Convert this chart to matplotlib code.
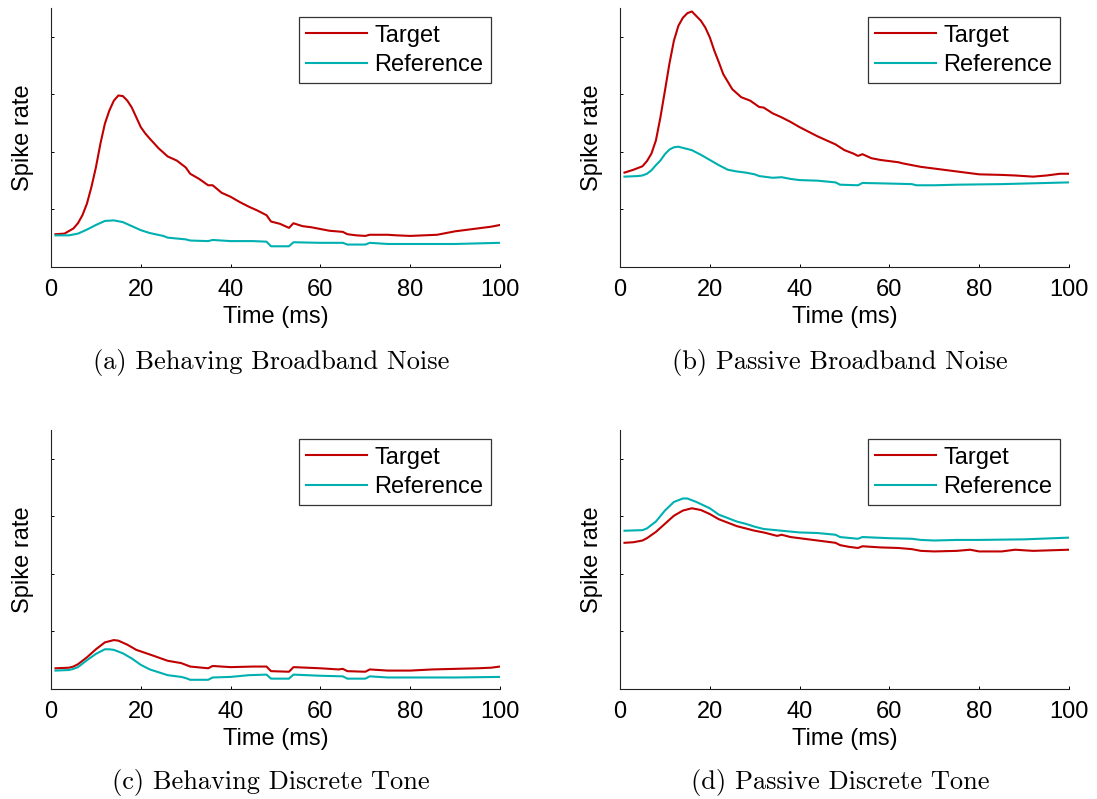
import matplotlib
matplotlib.use("Agg")
import matplotlib.pyplot as plt

plt.rcParams['font.family'] = ['Liberation Sans', 'DejaVu Sans']

# time axis (ms) and spike-rate traces for each condition, in y-tick units
# (a) behaving, broadband noise
a_tar_t = [1, 3, 5, 6, 7, 8, 9, 10, 11, 12, 13, 14, 15, 16, 17, 18, 19, 20, 21, 22, 24, 26, 28, 30,
           31, 33, 35, 36, 38, 40, 42, 44, 46, 48, 49, 51, 53, 54, 56, 58, 60, 62, 65, 66, 68, 70,
           71, 75, 77, 80, 83, 86, 90, 95, 98, 100]
a_tar_y = [0.57, 0.58, 0.67, 0.76, 0.90, 1.10, 1.39, 1.73, 2.14, 2.49, 2.72, 2.89, 2.98, 2.97, 2.89,
           2.77, 2.60, 2.43, 2.32, 2.23, 2.06, 1.92, 1.85, 1.73, 1.62, 1.53, 1.42, 1.42, 1.29, 1.22,
           1.13, 1.05, 0.98, 0.90, 0.79, 0.75, 0.68, 0.76, 0.71, 0.69, 0.66, 0.63, 0.61, 0.57, 0.55,
           0.54, 0.56, 0.56, 0.55, 0.54, 0.55, 0.56, 0.62, 0.67, 0.70, 0.73]
a_ref_t = [1, 4, 6, 8, 10, 12, 14, 16, 18, 20, 22, 25, 26, 30, 31, 35, 36, 40, 45, 48, 49, 53, 54,
           60, 65, 66, 70, 71, 75, 80, 90, 100]
a_ref_y = [0.55, 0.55, 0.58, 0.65, 0.73, 0.80, 0.81, 0.78, 0.71, 0.64, 0.59, 0.54, 0.51, 0.48, 0.46,
           0.45, 0.47, 0.45, 0.45, 0.44, 0.36, 0.36, 0.43, 0.42, 0.42, 0.39, 0.39, 0.42, 0.40, 0.40,
           0.40, 0.42]

# (b) passive, broadband noise
b_tar_t = [1, 3, 5, 6, 7, 8, 9, 10, 11, 12, 13, 14, 15, 16, 17, 18, 19, 20, 21, 22, 23, 25, 27, 29,
           31, 32, 34, 36, 38, 40, 42, 44, 46, 48, 50, 52, 53, 54, 56, 58, 60, 62, 63, 65, 67, 70,
           73, 75, 78, 80, 85, 88, 90, 92, 95, 98, 100]
b_tar_y = [1.64, 1.69, 1.75, 1.84, 1.97, 2.20, 2.60, 3.06, 3.53, 3.93, 4.19, 4.33, 4.41, 4.44, 4.36,
           4.28, 4.16, 3.99, 3.76, 3.56, 3.35, 3.09, 2.95, 2.89, 2.78, 2.77, 2.67, 2.60, 2.52, 2.43,
           2.35, 2.27, 2.20, 2.13, 2.03, 1.97, 1.93, 1.96, 1.89, 1.86, 1.84, 1.82, 1.80, 1.77, 1.74,
           1.71, 1.68, 1.66, 1.63, 1.61, 1.60, 1.59, 1.58, 1.57, 1.59, 1.62, 1.62]
b_ref_t = [1, 4, 5, 6, 7, 8, 9, 10, 11, 12, 13, 14, 16, 18, 20, 22, 24, 26, 28, 30, 31, 34, 36, 38,
           40, 44, 48, 49, 53, 54, 60, 65, 66, 70, 75, 85, 90, 100]
b_ref_y = [1.57, 1.58, 1.59, 1.62, 1.68, 1.77, 1.85, 1.96, 2.04, 2.08, 2.09, 2.07, 2.03, 1.95, 1.86,
           1.77, 1.69, 1.66, 1.64, 1.61, 1.58, 1.55, 1.56, 1.53, 1.51, 1.50, 1.47, 1.43, 1.42, 1.46,
           1.45, 1.44, 1.42, 1.42, 1.43, 1.44, 1.45, 1.47]

# (c) behaving, discrete tone
c_tar_t = [1, 4, 5, 6, 8, 10, 12, 14, 15, 17, 19, 22, 26, 29, 30, 31, 35, 36, 40, 45, 48, 49, 53,
           54, 60, 64, 65, 66, 70, 71, 75, 80, 85, 90, 95, 98, 100]
c_tar_y = [0.36, 0.37, 0.39, 0.43, 0.55, 0.69, 0.81, 0.85, 0.84, 0.77, 0.68, 0.60, 0.49, 0.45, 0.42,
           0.39, 0.36, 0.40, 0.38, 0.39, 0.39, 0.31, 0.30, 0.38, 0.36, 0.34, 0.35, 0.31, 0.30, 0.34,
           0.32, 0.32, 0.34, 0.35, 0.36, 0.37, 0.39]
c_ref_t = [1, 4, 5, 6, 8, 10, 12, 13, 14, 16, 18, 20, 22, 24, 26, 29, 30, 31, 35, 36, 40, 44, 48,
           49, 53, 54, 60, 65, 66, 70, 71, 75, 80, 90, 100]
c_ref_y = [0.32, 0.33, 0.35, 0.38, 0.50, 0.61, 0.69, 0.69, 0.68, 0.62, 0.53, 0.42, 0.34, 0.29, 0.24,
           0.21, 0.19, 0.16, 0.16, 0.20, 0.21, 0.24, 0.25, 0.18, 0.18, 0.25, 0.23, 0.22, 0.18, 0.18,
           0.22, 0.20, 0.20, 0.20, 0.21]

# (d) passive, discrete tone
d_tar_t = [1, 3, 5, 6, 8, 10, 12, 14, 16, 18, 20, 22, 24, 26, 28, 30, 32, 35, 36, 38, 40, 44, 48,
           49, 51, 53, 54, 58, 62, 65, 67, 70, 75, 78, 80, 85, 88, 92, 100]
d_tar_y = [2.54, 2.55, 2.58, 2.62, 2.73, 2.87, 3.01, 3.10, 3.14, 3.11, 3.04, 2.95, 2.89, 2.83, 2.79,
           2.75, 2.72, 2.66, 2.68, 2.64, 2.62, 2.58, 2.54, 2.50, 2.47, 2.45, 2.48, 2.46, 2.45, 2.43,
           2.40, 2.39, 2.40, 2.42, 2.39, 2.39, 2.42, 2.40, 2.42]
d_ref_t = [1, 5, 6, 8, 10, 12, 14, 15, 17, 20, 22, 24, 26, 28, 30, 32, 36, 40, 44, 48, 49, 53, 54,
           60, 65, 67, 70, 75, 80, 90, 100]
d_ref_y = [2.75, 2.76, 2.79, 2.91, 3.10, 3.25, 3.31, 3.31, 3.25, 3.14, 3.03, 2.97, 2.91, 2.87, 2.82,
           2.78, 2.75, 2.72, 2.71, 2.68, 2.64, 2.61, 2.64, 2.62, 2.61, 2.59, 2.58, 2.59, 2.59, 2.60,
           2.63]

captions = ["(a) Behaving Broadband Noise", "(b) Passive Broadband Noise",
            "(c) Behaving Discrete Tone", "(d) Passive Discrete Tone"]
panels = [(a_tar_t, a_tar_y, a_ref_t, a_ref_y),
          (b_tar_t, b_tar_y, b_ref_t, b_ref_y),
          (c_tar_t, c_tar_y, c_ref_t, c_ref_y),
          (d_tar_t, d_tar_y, d_ref_t, d_ref_y)]
x_ticks = [0, 20, 40, 60, 80, 100]
y_ticks = [0, 1, 2, 3, 4]

TARGET_COLOR = '#c00000'
REF_COLOR = '#00b0b0'
FS = 17

W, H = 1097, 799
fig = plt.figure(figsize=(W / 100, H / 100), dpi=100)

# axes boxes in pixels: left, top, right, bottom
boxes = [(51, 8, 500, 267), (620, 8, 1069, 267),
         (51, 430, 500, 689), (620, 430, 1069, 689)]
caption_pos = [(271, 362), (840, 362), (271, 782), (840, 782)]

for (l, t, r, b), (tt, ty, rt, ry), cap, (cx, cy) in zip(boxes, panels, captions, caption_pos):
    ax = fig.add_axes([l / W, 1 - b / H, (r - l) / W, (b - t) / H])
    ax.plot(tt, ty, color=TARGET_COLOR, lw=1.5, label='Target')
    ax.plot(rt, ry, color=REF_COLOR, lw=1.5, label='Reference')
    ax.set_xlim(0, 100)
    ax.set_ylim(0, 4.5)
    ax.set_xticks(x_ticks)
    ax.set_yticks(y_ticks)
    ax.set_yticklabels([])
    ax.tick_params(direction='in', length=2.5, width=0.7, labelsize=FS, pad=9)
    for side in ('top', 'right'):
        ax.spines[side].set_visible(False)
    for side in ('left', 'bottom'):
        ax.spines[side].set_linewidth(0.8)
        ax.spines[side].set_color('#222222')
    ax.set_xlabel('Time (ms)', fontsize=FS, labelpad=3.5)
    ax.set_ylabel('Spike rate', fontsize=FS, labelpad=3)
    leg = ax.legend(loc='upper right', fontsize=FS, frameon=True, fancybox=False,
                    borderaxespad=0.4, handlelength=2.6, handletextpad=0.3,
                    labelspacing=0.33, borderpad=0.3)
    leg.get_frame().set_edgecolor('black')
    leg.get_frame().set_linewidth(0.9)
    fig.text(cx / W, 1 - cy / H, cap, family='cmr10', fontsize=19,
             ha='center', va='center')

fig.savefig('out.png', dpi=100)
